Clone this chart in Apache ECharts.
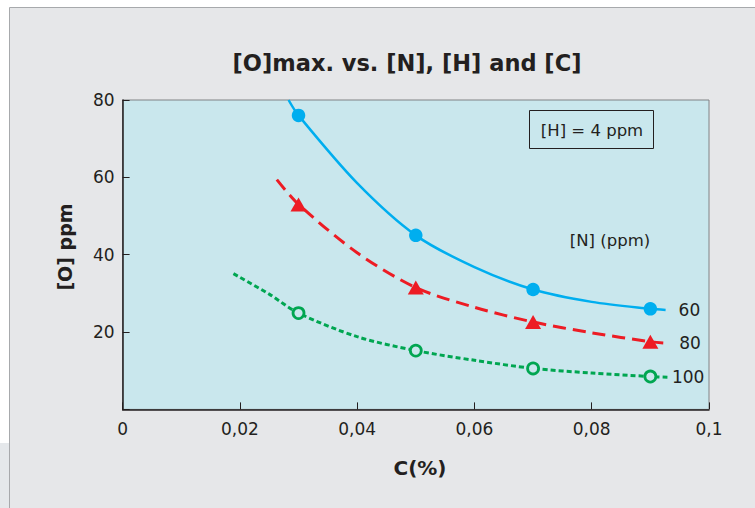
<!DOCTYPE html>
<html>
<head>
<meta charset="utf-8">
<script src="https://cdn.jsdelivr.net/npm/echarts@6/dist/echarts.min.js"></script>
<style>
html,body{margin:0;padding:0;background:#ffffff;}
#chart{width:755px;height:508px;}
</style>
</head>
<body>
<div id="chart"></div>
<script>
// ---- data ----
const titleText = '[O]max. vs. [N], [H] and [C]';
const xName = 'C(%)';
const yName = '[O] ppm';
const xTicks = [0, 0.02, 0.04, 0.06, 0.08, 0.1];
const yTicks = [20, 40, 60, 80];
const cPoints = [0.03, 0.05, 0.07, 0.09];          // measured C(%)
const seriesNames = ['60', '80', '100'];            // [N] ppm
const o60 = [76, 45, 31, 26];
const o80 = [53, 31.5, 22.6, 17.5];
const o100 = [24.9, 15.2, 10.6, 8.5];
// fitted curves as drawn in the reference: [C(%), O ppm] pairs
const curve60C = [0.0283, 0.03, 0.04, 0.05, 0.06, 0.07, 0.08, 0.09, 0.0926];
const curve60O = [80, 76, 58.5, 45, 36.8, 31, 27.8, 26, 25.7];
const curve80C = [0.0263, 0.03, 0.04, 0.05, 0.06, 0.07, 0.08, 0.09, 0.0922];
const curve80O = [59.4, 53, 40.5, 31.5, 26.4, 22.6, 19.8, 17.5, 17.2];
const curve100C = [0.0189, 0.025, 0.03, 0.04, 0.05, 0.06, 0.07, 0.08, 0.09, 0.093];
const curve100O = [35.1, 29.8, 24.9, 18.8, 15.2, 12.7, 10.6, 9.4, 8.5, 8.3];
const noteH = '[H] = 4 ppm';
const noteN = '[N] (ppm)';

const FONT = 'DejaVu Sans';
const TXT = '#231f20';
const BG = '#c9e7ed';
const cBlue = '#00aeef', cRed = '#ed1c24', cGreen = '#00a651';

function zip(xs, ys) { return xs.map((x, i) => [x, ys[i]]); }

const chart = echarts.init(document.getElementById('chart'), null, {renderer: 'svg'});
const option = {
  animation: false,
  backgroundColor: '#ffffff',
  textStyle: {fontFamily: FONT},
  grid: {
    left: 122.6, right: 46, top: 100, bottom: 98.6,
    show: true, backgroundColor: BG, borderColor: '#808285', borderWidth: 1
  },
  xAxis: {
    type: 'value', min: 0, max: 0.1, interval: 0.02,
    axisLine: {lineStyle: {color: TXT, width: 1.5}},
    axisTick: {inside: true, length: 7, lineStyle: {color: TXT, width: 1}},
    splitLine: {show: false},
    axisLabel: {
      margin: 11, color: TXT, fontSize: 17, fontFamily: FONT,
      formatter: v => String(+(+v).toFixed(2)).replace('.', ',')
    }
  },
  yAxis: {
    type: 'value', min: 0, max: 80, interval: 20,
    axisLine: {show: true, lineStyle: {color: TXT, width: 1.5}},
    axisTick: {show: true, inside: true, length: 7, lineStyle: {color: TXT, width: 1}},
    splitLine: {show: false},
    axisLabel: {
      margin: 8, color: TXT, fontSize: 17, fontFamily: FONT,
      formatter: v => (yTicks.indexOf(v) >= 0 ? String(v) : '')
    }
  },
  graphic: [
    {type: 'rect', z: -10, shape: {x: 9.5, y: 7.5, width: 800, height: 540},
     style: {fill: '#e6e7e9', stroke: '#a7a9ac', lineWidth: 1}},
    {type: 'rect', z: -10, shape: {x: 0, y: 443, width: 9, height: 65},
     style: {fill: '#e5e8eb'}},
    {type: 'text', z: 10, x: 407, y: 63,
     style: {text: titleText, fill: TXT, font: 'bold 22.5px "DejaVu Sans"', textAlign: 'center', textVerticalAlign: 'middle'}},
    {type: 'text', z: 10, x: 65, y: 247, rotation: Math.PI / 2,
     style: {text: yName, fill: TXT, font: 'bold 19px "DejaVu Sans"', textAlign: 'center', textVerticalAlign: 'middle'}},
    {type: 'text', z: 10, x: 420, y: 468,
     style: {text: xName, fill: TXT, font: 'bold 20px "DejaVu Sans"', textAlign: 'center', textVerticalAlign: 'middle'}},
    {type: 'rect', z: 10, shape: {x: 529.5, y: 110.5, width: 124, height: 38},
     style: {fill: 'none', stroke: TXT, lineWidth: 1}},
    {type: 'text', z: 10, x: 592, y: 130,
     style: {text: noteH, fill: TXT, font: '16.5px "DejaVu Sans"', textAlign: 'center', textVerticalAlign: 'middle'}},
    {type: 'text', z: 10, x: 610, y: 240,
     style: {text: noteN, fill: TXT, font: '16.5px "DejaVu Sans"', textAlign: 'center', textVerticalAlign: 'middle'}}
  ],
  series: [
    {
      name: seriesNames[0], type: 'line', data: zip(curve60C, curve60O),
      smooth: 0.3, symbol: 'none',
      lineStyle: {color: cBlue, width: 2.5},
      endLabel: {show: true, formatter: '{a}', distance: 13, color: TXT, fontSize: 17, fontFamily: FONT}
    },
    {
      name: seriesNames[1], type: 'line', data: zip(curve80C, curve80O),
      smooth: 0.3, symbol: 'none',
      lineStyle: {color: cRed, width: 3, type: [13, 7]},
      endLabel: {show: true, formatter: '{a}', distance: 16, color: TXT, fontSize: 17, fontFamily: FONT}
    },
    {
      name: seriesNames[2], type: 'line', data: zip(curve100C, curve100O),
      smooth: 0.3, symbol: 'none',
      lineStyle: {color: cGreen, width: 3, type: [5, 3]},
      endLabel: {show: true, formatter: '{a}', distance: 4, color: TXT, fontSize: 17, fontFamily: FONT}
    },
    {
      type: 'scatter', data: zip(cPoints, o60), symbol: 'circle', symbolSize: 13.5, z: 5,
      itemStyle: {color: cBlue, opacity: 1}
    },
    {
      type: 'scatter', data: zip(cPoints, o80), symbol: 'triangle', symbolSize: [16, 14], z: 5,
      itemStyle: {color: cRed, opacity: 1}
    },
    {
      type: 'scatter', data: zip(cPoints, o100), symbol: 'circle', symbolSize: 11, z: 5,
      itemStyle: {color: BG, borderColor: cGreen, borderWidth: 2.8, opacity: 1}
    }
  ]
};
chart.setOption(option);
</script>
</body>
</html>
